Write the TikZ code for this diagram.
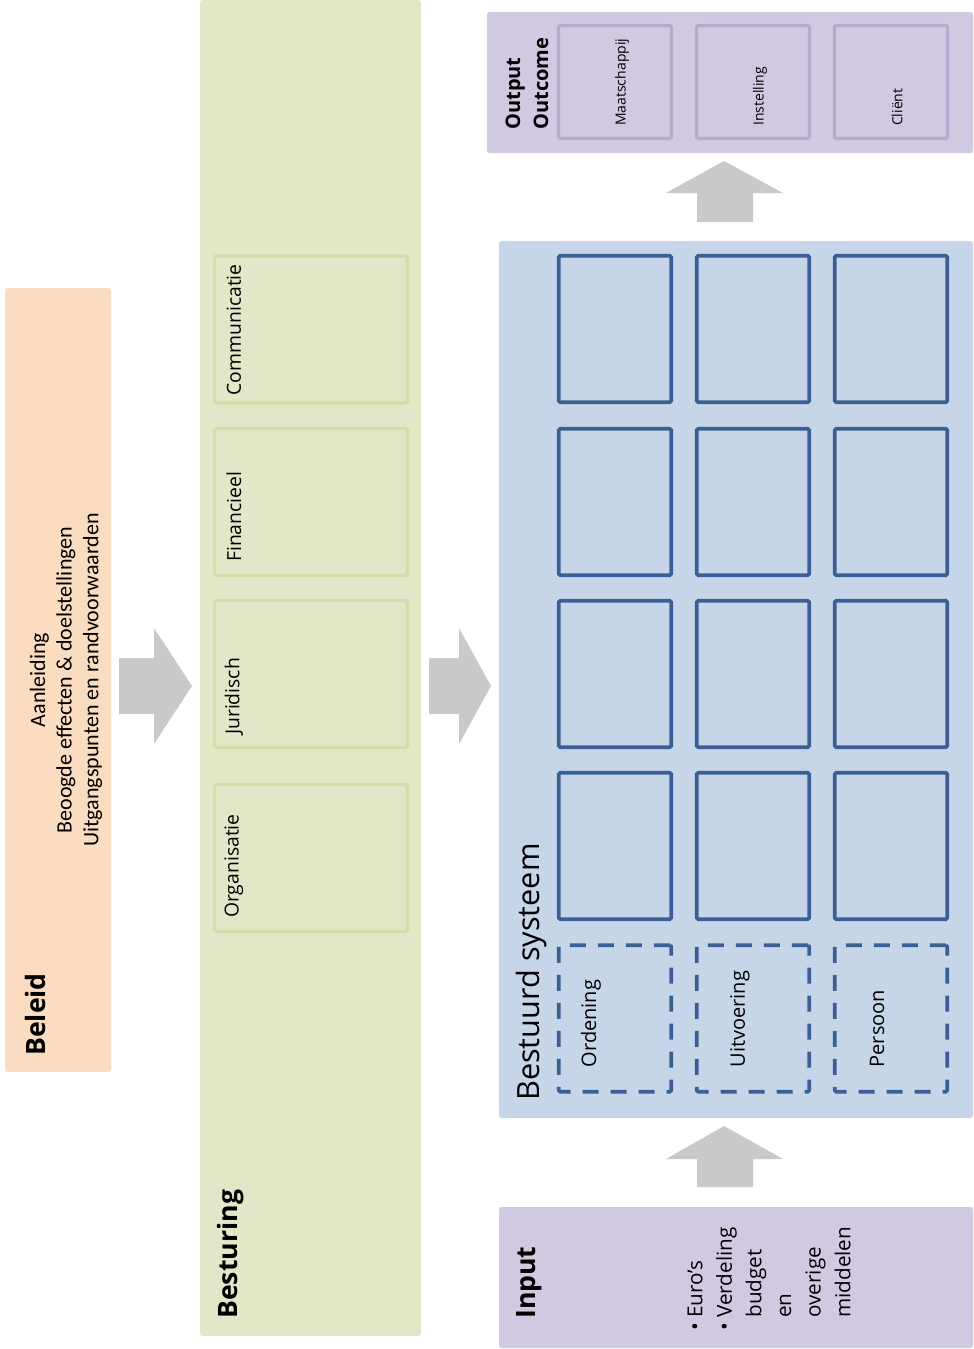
\documentclass[tikz,border=0pt]{standalone}
\usepackage{fontspec}
\setmainfont{Open Sans}
\newfontfamily\beleidfont{Carlito}
\usepackage{tikz}
\usetikzlibrary{calc}

\definecolor{beleidkleur}{HTML}{FADCC1}
\definecolor{stuurkleur}{HTML}{E1E8C7}
\definecolor{stuurrand}{HTML}{D3DDA8}
\definecolor{systeemkleur}{HTML}{C6D6E8}
\definecolor{systeemrand}{HTML}{3B5F95}
\definecolor{paarskleur}{HTML}{D1C9E1}
\definecolor{paarsrand}{HTML}{B8A9D1}
\definecolor{pijlgrijs}{HTML}{C9C9C9}

\begin{document}
\begin{tikzpicture}[x=0.75pt, y=-0.75pt,
    % Large coloured panels (one per column/row)
    paneel/.style={rectangle, rounded corners=2pt, inner sep=0pt},
    breed/.style={minimum width=#1*0.75pt},
    hoog/.style={minimum height=#1*0.75pt},
    % Green boxes inside Besturing
    stuurvak/.style={rectangle, draw=stuurrand, line width=2.4pt, rounded corners=1.5pt,
                     minimum width=193*0.75pt, minimum height=147*0.75pt},
    % Blue boxes inside the governed system
    systeemvak/.style={rectangle, draw=systeemrand, line width=2.7pt, rounded corners=1pt,
                       minimum width=112.5*0.75pt, minimum height=146.5*0.75pt},
    stippelvak/.style={systeemvak, dash pattern=on 12pt off 9pt},
    % Purple boxes inside Output
    uitvoervak/.style={rectangle, draw=paarsrand, line width=2.4pt, rounded corners=1pt,
                       minimum width=113*0.75pt, minimum height=113*0.75pt},
    % Rotated texts
    tekst/.style={rotate=90, anchor=west, inner sep=0pt, text=black},
    titel/.style={tekst, font=\bfseries\fontsize{20}{24}\selectfont},
    vaktekst/.style={tekst, font=\fontsize{14.5}{17}\selectfont},
    pijl/.style={fill=pijlgrijs}
]
\useasboundingbox (0,0) rectangle (974,1349);

%-------- PANELS --------
\node[paneel, fill=beleidkleur, breed=106, hoog=784]  (beleid)    at (58,680)    {};
\node[paneel, fill=stuurkleur, breed=221, hoog=1336]  (besturing) at (310.5,668) {};
\node[paneel, fill=systeemkleur, breed=474, hoog=877] (systeem)   at (736,679.5) {};
\node[paneel, fill=paarskleur, breed=486, hoog=141]   (output)    at (730,82.5)  {};
\node[paneel, fill=paarskleur, breed=474, hoog=141]   (input)     at (736,1277.5) {};

%-------- BELEID --------
\node[titel] (beleidtitel) at (35,1056) {Beleid};
\node[rotate=90, inner sep=0pt, align=center, font=\beleidfont\fontsize{16.5}{20}\selectfont]
    (beleidtekst) at (66,680)
    {Aanleiding\\Beoogde effecten \& doelstellingen\\Uitgangspunten en randvoorwaarden};

%-------- BESTURING --------
\node[stuurvak] (com) at (311,329.5) {};
\node[stuurvak] (fin) at (311,502)   {};
\node[stuurvak] (jur) at (311,674)   {};
\node[stuurvak] (org) at (311,858)   {};
\node[vaktekst] at ($(com.south west)+(21,-9)$)  {Communicatie};
\node[vaktekst] at ($(fin.south west)+(21,-15)$) {Financieel};
\node[vaktekst] at ($(jur.south west)+(21,-14)$) {Juridisch};
\node[vaktekst] at ($(org.south west)+(21,-15)$) {Organisatie};
\node[titel] (besturingtitel) at (231,1319) {Besturing};

%-------- BESTUURD SYSTEEM --------
\node[systeemvak] (s11) at (615,329) {};
\node[systeemvak] (s12) at (753,329) {};
\node[systeemvak] (s13) at (891,329) {};
\node[systeemvak] (s21) at (615,502) {};
\node[systeemvak] (s22) at (753,502) {};
\node[systeemvak] (s23) at (891,502) {};
\node[systeemvak] (s31) at (615,674) {};
\node[systeemvak] (s32) at (753,674) {};
\node[systeemvak] (s33) at (891,674) {};
\node[systeemvak] (s41) at (615,846) {};
\node[systeemvak] (s42) at (753,846) {};
\node[systeemvak] (s43) at (891,846) {};
\node[stippelvak] (ord) at (615,1018.5) {};
\node[stippelvak] (uit) at (753,1018.5) {};
\node[stippelvak] (per) at (891,1018.5) {};
\node[tekst, font=\fontsize{15}{18}\selectfont] at ($(ord.south west)+(34,-26)$) {Ordening};
\node[tekst, font=\fontsize{15}{18}\selectfont] at ($(uit.south west)+(45,-26)$) {Uitvoering};
\node[tekst, font=\fontsize{15}{18}\selectfont] at ($(per.south west)+(44,-26)$) {Persoon};
\node[tekst, font=\fontsize{23}{27}\selectfont] (systeemtitel) at (532,1101) {Bestuurd systeem};

%-------- OUTPUT / OUTCOME --------
\node[uitvoervak] (maat) at (615,82) {};
\node[uitvoervak] (inst) at (753,82) {};
\node[uitvoervak] (cli)  at (891,82) {};
\node[tekst, font=\fontsize{10.5}{13}\selectfont] at ($(maat.south)+(7,-14)$) {Maatschappij};
\node[tekst, font=\fontsize{10.5}{13}\selectfont] at ($(inst.south)+(7,-14)$) {Instelling};
\node[tekst, font=\fontsize{10.5}{13}\selectfont] at ($(cli.south)+(6,-14)$)  {Cliënt};
\node[tekst, align=left, font=\bfseries\fontsize{15}{21}\selectfont] (outputtitel) at (527,130)
    {Output\\Outcome};

%-------- INPUT --------
\node[titel] (inputtitel) at (529,1319) {Input};
\node[tekst, align=left, font=\fontsize{15.5}{22.2}\selectfont] (inputtekst) at (769,1331)
    {\textbullet\ Euro’s\\
     \textbullet\ Verdeling\\
     \hphantom{\textbullet\ }budget\\
     \hphantom{\textbullet\ }en\\
     \hphantom{\textbullet\ }overige\\
     \hphantom{\textbullet\ }middelen};

%-------- BLOCK ARROWS --------
\fill[pijl] (119,658) -- (154,658) -- (154,628) -- (192,686) -- (154,744) -- (154,714) -- (119,714) -- cycle;
\fill[pijl] (429,658) -- (459,658) -- (459,628) -- (491,686) -- (459,744) -- (459,714) -- (429,714) -- cycle;
\fill[pijl] (697,222) -- (697,193) -- (666,193) -- (724,161) -- (783,193) -- (753,193) -- (753,222) -- cycle;
\fill[pijl] (697,1187) -- (697,1159) -- (666,1159) -- (724,1126) -- (783,1159) -- (753,1159) -- (753,1187) -- cycle;

\end{tikzpicture}
\end{document}
